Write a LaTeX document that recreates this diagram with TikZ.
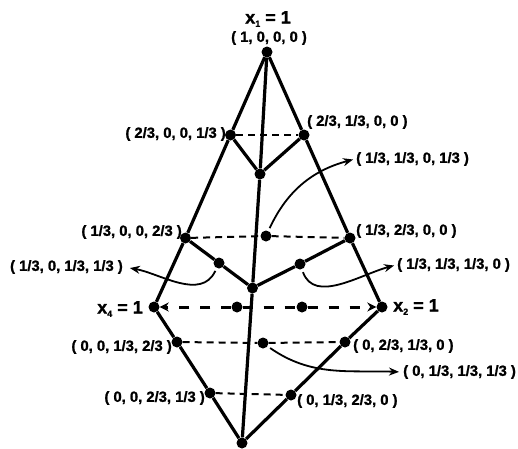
\documentclass[tikz,border=0pt]{standalone}
\usepackage{fontspec}
\setmainfont{Liberation Sans}[BoldFeatures={FakeBold=1.2}]
\usetikzlibrary{arrows.meta}
\newcommand{\sbs}[1]{\raisebox{-0.35ex}{\fontsize{9}{9}\selectfont #1}}
\begin{document}
\begin{tikzpicture}[x=1pt,y=-1pt,
  dot/.style={circle,fill=black,inner sep=0pt,minimum size=11pt},
  edge/.style={line width=3.2pt},
  thindash/.style={line width=2pt, dash pattern=on 7pt off 5pt},
  thickdash/.style={line width=3pt, dash pattern=on 10pt off 11pt},
  lab/.style={font=\fontsize{14.8}{14.8}\selectfont\bfseries, inner sep=1pt},
  biglab/.style={font=\fontsize{18}{18}\selectfont\bfseries, inner sep=1pt},
  curv/.style={line width=1.8pt, -{Stealth[length=10pt,width=8pt]}}]
\useasboundingbox (0,0) rectangle (518,448);
% vertices and points
\node[dot] (x1) at (267,52) {};
\node[dot] (a1) at (230.5,135) {};
\node[dot] (a2) at (304,135) {};
\node[dot] (c1) at (260,174) {};
\node[dot] (b1) at (185.5,238) {};
\node[dot] (b2) at (266,236) {};
\node[dot] (b3) at (350,238) {};
\node[dot] (d1) at (219,263) {};
\node[dot] (d2) at (300,264) {};
\node[dot] (j) at (252.5,288) {};
\node[dot] (x4) at (154,307) {};
\node[dot] (m1) at (237,307) {};
\node[dot] (m2) at (302,307) {};
\node[dot] (x2) at (382,307) {};
\node[dot] (e1) at (177,342) {};
\node[dot] (e2) at (263,343) {};
\node[dot] (e3) at (345,342) {};
\node[dot] (f1) at (210,393) {};
\node[dot] (f2) at (291,395) {};
\node[dot] (x3) at (242,443) {};
% solid edges
\draw[edge] (x1) -- (a1) -- (b1) -- (x4) -- (e1) -- (f1) -- (x3) -- (f2) -- (e3) -- (x2) -- (b3) -- (a2) -- (x1);
\draw[edge] (x1) -- (c1) -- (j) -- (x3);
\draw[edge] (a1) -- (c1) -- (a2);
\draw[edge] (b1) -- (d1) -- (j) -- (d2) -- (b3);
% dashed lines
\draw[thindash] (a1) -- (a2);
\draw[thindash] (b1) -- (b2) -- (b3);
\draw[thickdash, -{Stealth[length=9pt,width=9pt]}] (m1) -- (x4);
\draw[thickdash] (m1) -- (m2);
\draw[thickdash, -{Stealth[length=9pt,width=9pt]}] (m2) -- (x2);
\draw[thindash] (e1) -- (e2) -- (e3);
\draw[thindash] (f1) -- (f2);
% labels
\node[biglab] (X1) at (268,19) {x\sbs{1} = 1};
\node[lab] (L0) at (269,38) {( 1, 0, 0, 0 )};
\node[lab, anchor=east] (L1) at (227,134) {( 2/3, 0, 0, 1/3 )};
\node[lab, anchor=west] (L2) at (306,122) {( 2/3, 1/3, 0, 0 )};
\node[lab, anchor=west] (L3) at (355,159) {( 1/3, 1/3, 0, 1/3 )};
\node[lab, anchor=east] (L4) at (183,232) {( 1/3, 0, 0, 2/3 )};
\node[lab, anchor=west] (L5) at (355,231) {( 1/3, 2/3, 0, 0 )};
\node[lab, anchor=east] (L6) at (124,267) {( 1/3, 0, 1/3, 1/3 )};
\node[lab, anchor=west] (L7) at (396,265) {( 1/3, 1/3, 1/3, 0 )};
\node[biglab, anchor=east] (X4) at (144,309) {x\sbs{4} = 1};
\node[biglab, anchor=west] (X2) at (392,307) {x\sbs{2} = 1};
\node[lab, anchor=east] (L8) at (173,347) {( 0, 0, 1/3, 2/3 )};
\node[lab, anchor=west] (L9) at (352,346) {( 0, 2/3, 1/3, 0 )};
\node[lab, anchor=west] (L10) at (402,372) {( 0, 1/3, 1/3, 1/3 )};
\node[lab, anchor=east] (L11) at (206,398) {( 0, 0, 2/3, 1/3 )};
\node[lab, anchor=west] (L12) at (296,401) {( 0, 1/3, 2/3, 0 )};
% curved pointers
\draw[curv, shorten <=3pt, shorten >=2pt] (b2) to[out=65, in=195] (L3.west);
\draw[curv, shorten <=3pt, shorten >=6pt] (d1) to[out=245, in=-10] (L6.east);
\draw[curv, shorten <=3pt, shorten >=2pt] (d2) to[out=-70, in=195] (L7.west);
\draw[curv, shorten <=3pt, shorten >=3pt] (e2) to[out=-35, in=178] (L10.west);
\end{tikzpicture}
\end{document}
